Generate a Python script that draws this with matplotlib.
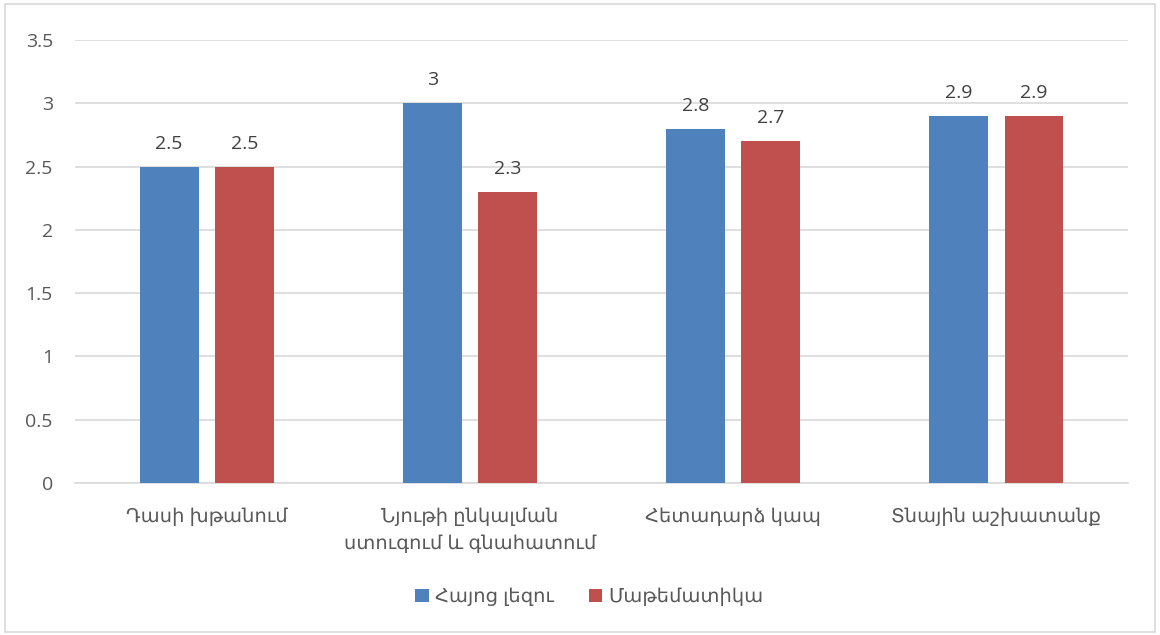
import numpy as np
import matplotlib.pyplot as plt
from matplotlib.patches import Rectangle

plt.rcParams['font.family'] = ['Open Sans', 'DejaVu Sans']

categories = ["Դասի խթանում", "Նյութի ընկալման\nստուգում և գնահատում",
              "Հետադարձ կապ", "Տնային աշխատանք"]
series_names = ["Հայոց լեզու", "Մաթեմատիկա"]
armenian = [2.5, 3.0, 2.8, 2.9]
math = [2.5, 2.3, 2.7, 2.9]
colors = ["#4F81BD", "#C0504D"]
text_color = "#595959"
fs = 14

fig = plt.figure(figsize=(11.6, 6.35), dpi=100)
ax = fig.add_axes([0.0647, 0.2394, 0.9077, 0.6976])

# outer frame like the office chart border
fig.patches.append(Rectangle((0.004, 0.004), 0.992, 0.99, transform=fig.transFigure,
                             fill=False, edgecolor="#D9D9D9", linewidth=1.2))

x = np.arange(len(categories))
w = 0.224
off = 0.143
for vals, name, c, dx in [(armenian, series_names[0], colors[0], -off),
                          (math, series_names[1], colors[1], off)]:
    bars = ax.bar(x + dx, vals, width=w, color=c, label=name, zorder=3)
    for b, v in zip(bars, vals):
        ax.text(b.get_x() + b.get_width() / 2, v + 0.11, f"{v:g}",
                ha="center", va="bottom", fontsize=fs, color="#404040")

ax.set_xlim(-0.5, len(categories) - 0.5)
ax.set_ylim(0, 3.5)
ax.set_yticks(np.arange(0, 3.51, 0.5))
ax.set_yticklabels([f"{t:g}" for t in np.arange(0, 3.51, 0.5)])
ax.set_xticks(x)
ax.set_xticklabels(categories, linespacing=1.55)
ax.grid(axis="y", color="#D9D9D9", linewidth=1.2, zorder=0)
for s in ["top", "right", "left"]:
    ax.spines[s].set_visible(False)
ax.spines["bottom"].set_color("#D9D9D9")
ax.spines["bottom"].set_linewidth(1.2)
ax.tick_params(axis="both", length=0, labelsize=fs, colors=text_color)
ax.tick_params(axis="y", pad=16)
ax.tick_params(axis="x", pad=18)

fig.legend(loc="center", bbox_to_anchor=(0.508, 0.06), ncol=2, frameon=False,
           fontsize=fs, labelcolor=text_color, handlelength=0.7, handleheight=0.7,
           handletextpad=0.3, columnspacing=1.8)

fig.savefig("out.png", dpi=100)
